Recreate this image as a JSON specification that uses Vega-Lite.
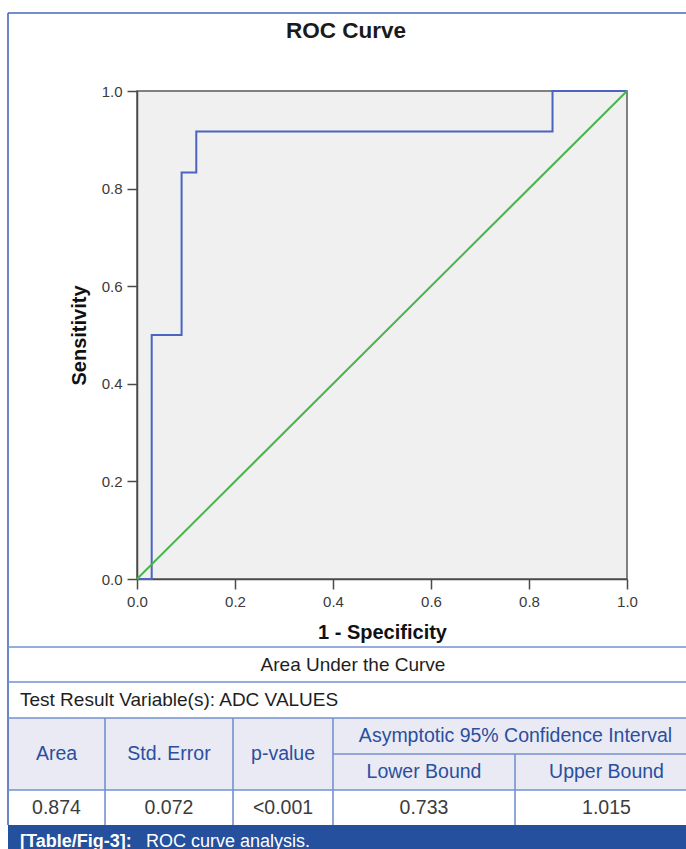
{
  "$schema": "https://vega.github.io/schema/vega-lite/v6.json",
  "autosize": {"type": "none"},
  "padding": {"left": 137, "top": 91, "right": 59, "bottom": 270},
  "width": 490,
  "height": 488,
  "background": "white",
  "config": {
    "view": {"fill": "#f0f0f0", "stroke": "#5a5a5a", "strokeWidth": 1.5},
    "font": "Liberation Sans"
  },
  "title": {
    "text": "ROC Curve",
    "frame": "group",
    "anchor": "middle",
    "dx": -36,
    "offset": -30,
    "fontSize": 22.5,
    "fontWeight": "bold",
    "font": "Liberation Sans",
    "color": "#1a1a1a"
  },
  "datasets": {
    "roc": [
      {"series": "ROC", "step": 0, "fpr": 0, "tpr": 0},
      {"series": "ROC", "step": 1, "fpr": 0.030, "tpr": 0},
      {"series": "ROC", "step": 2, "fpr": 0.030, "tpr": 0.5},
      {"series": "ROC", "step": 3, "fpr": 0.091, "tpr": 0.5},
      {"series": "ROC", "step": 4, "fpr": 0.091, "tpr": 0.833},
      {"series": "ROC", "step": 5, "fpr": 0.121, "tpr": 0.833},
      {"series": "ROC", "step": 6, "fpr": 0.121, "tpr": 0.917},
      {"series": "ROC", "step": 7, "fpr": 0.848, "tpr": 0.917},
      {"series": "ROC", "step": 8, "fpr": 0.848, "tpr": 1},
      {"series": "ROC", "step": 9, "fpr": 1, "tpr": 1},
      {"series": "Reference", "step": 0, "fpr": 0, "tpr": 0},
      {"series": "Reference", "step": 1, "fpr": 1, "tpr": 1}
    ],
    "fills": [
      {"kind": "header", "x0": 0, "x1": 100, "r0": 2, "r1": 4},
      {"kind": "caption", "x0": 0, "x1": 100, "r0": 5, "r1": 6}
    ],
    "lines": [
      {"kind": "frame", "x0": 0, "x1": 100, "r0": -1, "r1": -1},
      {"kind": "frame", "x0": 0, "x1": 0, "r0": -1, "r1": 5},
      {"kind": "grid", "x0": 0, "x1": 100, "r0": 0, "r1": 0},
      {"kind": "grid", "x0": 0, "x1": 100, "r0": 1, "r1": 1},
      {"kind": "grid", "x0": 0, "x1": 100, "r0": 2, "r1": 2},
      {"kind": "grid", "x0": 47.1, "x1": 100, "r0": 3, "r1": 3},
      {"kind": "grid", "x0": 0, "x1": 100, "r0": 4, "r1": 4},
      {"kind": "grid", "x0": 14.06, "x1": 14.06, "r0": 2, "r1": 5},
      {"kind": "grid", "x0": 32.61, "x1": 32.61, "r0": 2, "r1": 5},
      {"kind": "grid", "x0": 47.1, "x1": 47.1, "r0": 2, "r1": 5},
      {"kind": "grid", "x0": 73.48, "x1": 73.48, "r0": 3, "r1": 5}
    ],
    "cells": [
      {"role": "plain", "text": "Area Under the Curve", "tx": 50, "ty": 0.5},
      {"role": "lead", "text": "Test Result Variable(s): ADC VALUES", "tx": 0, "ty": 1.5},
      {"role": "header", "text": "Area", "tx": 7.03, "ty": 3},
      {"role": "header", "text": "Std. Error", "tx": 23.33, "ty": 3},
      {"role": "header", "text": "p-value", "tx": 39.86, "ty": 3},
      {"role": "header", "text": "Asymptotic 95% Confidence Interval", "tx": 73.55, "ty": 2.5},
      {"role": "header", "text": "Lower Bound", "tx": 60.29, "ty": 3.5},
      {"role": "header", "text": "Upper Bound", "tx": 86.74, "ty": 3.5},
      {"role": "value", "text": "0.874", "tx": 7.03, "ty": 4.5},
      {"role": "value", "text": "0.072", "tx": 23.33, "ty": 4.5},
      {"role": "value", "text": "<0.001", "tx": 39.86, "ty": 4.5},
      {"role": "value", "text": "0.733", "tx": 60.29, "ty": 4.5},
      {"role": "value", "text": "1.015", "tx": 86.74, "ty": 4.5},
      {"role": "captionBold", "text": "[Table/Fig-3]:", "tx": 0, "ty": 6},
      {"role": "caption", "text": "ROC curve analysis.", "tx": 0, "ty": 6}
    ]
  },
  "layer": [
    {
      "data": {"name": "fills"},
      "mark": {"type": "rect"},
      "encoding": {
        "x": {"field": "x0", "type": "quantitative", "scale": {"domain": [0, 100], "range": [-129, 561]}, "axis": null},
        "x2": {"field": "x1"},
        "y": {"field": "r0", "type": "quantitative", "scale": {"domain": [-1, 0, 1, 2, 3, 4, 5, 6], "range": [-78, 556, 591, 627, 663, 699, 734, 758]}, "axis": null},
        "y2": {"field": "r1"},
        "color": {"field": "kind", "type": "nominal", "scale": {"domain": ["header", "caption"], "range": ["#e9eaf4", "#24509d"]}, "legend": null}
      }
    },
    {
      "data": {"name": "lines"},
      "mark": {"type": "rule", "strokeWidth": 1.6},
      "encoding": {
        "x": {"field": "x0", "type": "quantitative", "scale": {"domain": [0, 100], "range": [-129, 561]}, "axis": null},
        "x2": {"field": "x1"},
        "y": {"field": "r0", "type": "quantitative", "scale": {"domain": [-1, 0, 1, 2, 3, 4, 5, 6], "range": [-78, 556, 591, 627, 663, 699, 734, 758]}, "axis": null},
        "y2": {"field": "r1"},
        "color": {"field": "kind", "type": "nominal", "scale": {"domain": ["frame", "grid"], "range": ["#4568b8", "#7391d0"]}, "legend": null}
      }
    },
    {
      "data": {"name": "cells"},
      "transform": [{"filter": "datum.role === 'plain'"}],
      "mark": {"type": "text", "align": "center", "baseline": "middle", "fontSize": 19, "font": "Liberation Sans", "color": "#1e1e1e"},
      "encoding": {
        "x": {"field": "tx", "type": "quantitative", "scale": {"domain": [0, 100], "range": [-129, 561]}, "axis": null},
        "y": {"field": "ty", "type": "quantitative", "scale": {"domain": [-1, 0, 1, 2, 3, 4, 5, 6], "range": [-78, 556, 591, 627, 663, 699, 734, 758]}, "axis": null},
        "text": {"field": "text"}
      }
    },
    {
      "data": {"name": "cells"},
      "transform": [{"filter": "datum.role === 'header' || datum.role === 'value'"}],
      "mark": {"type": "text", "align": "center", "baseline": "middle", "fontSize": 19.5, "font": "Liberation Sans"},
      "encoding": {
        "x": {"field": "tx", "type": "quantitative", "scale": {"domain": [0, 100], "range": [-129, 561]}, "axis": null},
        "y": {"field": "ty", "type": "quantitative", "scale": {"domain": [-1, 0, 1, 2, 3, 4, 5, 6], "range": [-78, 556, 591, 627, 663, 699, 734, 758]}, "axis": null},
        "text": {"field": "text"},
        "color": {"field": "role", "type": "nominal", "scale": {"domain": ["header", "value"], "range": ["#2a4f9f", "#3c3c3c"]}, "legend": null}
      }
    },
    {
      "data": {"name": "cells"},
      "transform": [{"filter": "datum.role === 'lead'"}],
      "mark": {"type": "text", "align": "left", "baseline": "middle", "dx": 12, "fontSize": 19, "font": "Liberation Sans", "color": "#1e1e1e"},
      "encoding": {
        "x": {"field": "tx", "type": "quantitative", "scale": {"domain": [0, 100], "range": [-129, 561]}, "axis": null},
        "y": {"field": "ty", "type": "quantitative", "scale": {"domain": [-1, 0, 1, 2, 3, 4, 5, 6], "range": [-78, 556, 591, 627, 663, 699, 734, 758]}, "axis": null},
        "text": {"field": "text"}
      }
    },
    {
      "data": {"name": "cells"},
      "transform": [{"filter": "datum.role === 'captionBold'"}],
      "mark": {"type": "text", "align": "left", "baseline": "alphabetic", "dx": 12, "dy": -2, "fontSize": 18, "fontWeight": "bold", "font": "Liberation Sans", "color": "white"},
      "encoding": {
        "x": {"field": "tx", "type": "quantitative", "scale": {"domain": [0, 100], "range": [-129, 561]}, "axis": null},
        "y": {"field": "ty", "type": "quantitative", "scale": {"domain": [-1, 0, 1, 2, 3, 4, 5, 6], "range": [-78, 556, 591, 627, 663, 699, 734, 758]}, "axis": null},
        "text": {"field": "text"}
      }
    },
    {
      "data": {"name": "cells"},
      "transform": [{"filter": "datum.role === 'caption'"}],
      "mark": {"type": "text", "align": "left", "baseline": "alphabetic", "dx": 138, "dy": -2, "fontSize": 18, "font": "Liberation Sans", "color": "white"},
      "encoding": {
        "x": {"field": "tx", "type": "quantitative", "scale": {"domain": [0, 100], "range": [-129, 561]}, "axis": null},
        "y": {"field": "ty", "type": "quantitative", "scale": {"domain": [-1, 0, 1, 2, 3, 4, 5, 6], "range": [-78, 556, 591, 627, 663, 699, 734, 758]}, "axis": null},
        "text": {"field": "text"}
      }
    },
    {
      "data": {"name": "roc"},
      "mark": {"type": "line", "strokeWidth": 2, "interpolate": "linear"},
      "encoding": {
        "x": {
          "field": "fpr", "type": "quantitative",
          "scale": {"domain": [0, 1], "nice": false, "zero": false},
          "axis": {
            "title": "1 - Specificity", "values": [0, 0.2, 0.4, 0.6, 0.8, 1], "format": ".1f", "grid": false,
            "tickSize": 10, "tickWidth": 1.5, "tickColor": "#4a4a4a", "domainColor": "#4a4a4a", "domainWidth": 1.5,
            "labelPadding": 5, "labelFontSize": 15, "labelColor": "#3a3a3a", "labelFont": "Liberation Sans", "labelFlush": false,
            "titleFont": "Liberation Sans", "titleFontSize": 20, "titleFontWeight": "bold", "titleColor": "#111111", "titlePadding": 13
          }
        },
        "y": {
          "field": "tpr", "type": "quantitative",
          "scale": {"domain": [0, 1], "nice": false, "zero": false},
          "axis": {
            "title": "Sensitivity", "values": [0, 0.2, 0.4, 0.6, 0.8, 1], "format": ".1f", "grid": false,
            "tickSize": 10, "tickWidth": 1.5, "tickColor": "#4a4a4a", "domainColor": "#4a4a4a", "domainWidth": 1.5,
            "labelPadding": 5, "labelFontSize": 15, "labelColor": "#3a3a3a", "labelFont": "Liberation Sans", "labelFlush": false,
            "titleFont": "Liberation Sans", "titleFontSize": 20, "titleFontWeight": "bold", "titleColor": "#111111", "titlePadding": 12
          }
        },
        "color": {"field": "series", "type": "nominal", "scale": {"domain": ["ROC", "Reference"], "range": ["#4a64c0", "#4cb34f"]}, "legend": null},
        "order": {"field": "step", "type": "quantitative"}
      }
    }
  ],
  "resolve": {"scale": {"x": "independent", "y": "independent", "color": "independent"}}
}
